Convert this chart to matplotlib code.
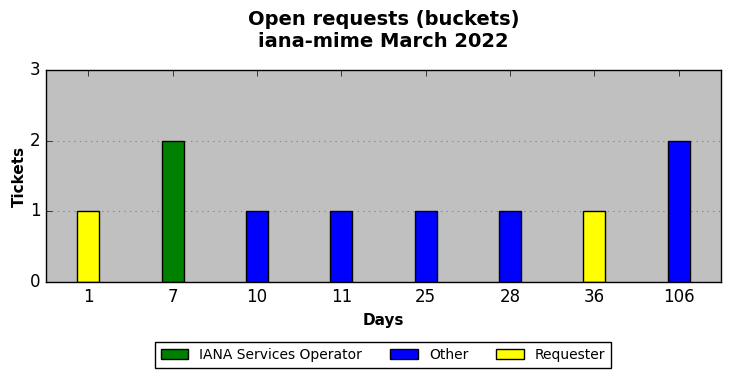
import matplotlib
matplotlib.use("Agg")
import matplotlib.pyplot as plt
import numpy as np

days = ["1", "7", "10", "11", "25", "28", "36", "106"]
iana = [0, 2, 0, 0, 0, 0, 0, 0]
other = [0, 0, 1, 1, 1, 1, 0, 2]
requester = [1, 0, 0, 0, 0, 0, 1, 0]

plt.style.use("classic")
fig = plt.figure(figsize=(7.3, 3.78), dpi=100)
ax = fig.add_axes([46 / 730, 1 - 282 / 378, 675 / 730, 212 / 378])
ax.set_facecolor("#c0c0c0")

x = np.arange(len(days))
w = 0.26
bottom = np.zeros(len(days))
series = [("IANA Services Operator", iana, "green"),
          ("Other", other, "blue"),
          ("Requester", requester, "yellow")]
for name, vals, col in series:
    vals = np.array(vals, dtype=float)
    mask = vals > 0
    ax.bar(x[mask], vals[mask], w, bottom=bottom[mask], color=col,
           edgecolor="black", linewidth=1, label=name, align="center")
    bottom += vals

ax.set_xlim(-0.5, len(days) - 0.5)
ax.set_ylim(0, 3)
ax.set_xticks(x)
ax.set_xticklabels(days, fontsize=12)
ax.set_yticks([0, 1, 2, 3])
ax.tick_params(axis="y", labelsize=12, right=False)
ax.yaxis.grid(True, linestyle=":", color="#888888", linewidth=0.8)
ax.set_axisbelow(True)
ax.set_xlabel("Days", fontsize=11, fontweight="bold")
ax.set_ylabel("Tickets", fontsize=11, fontweight="bold", labelpad=2)

fig.suptitle("Open requests (buckets)\niana-mime March 2022", fontsize=14,
             fontweight="bold", x=383.5 / 730, y=0.974)
fig.legend(loc="center", bbox_to_anchor=(383 / 730, 1 - 355 / 378), ncol=3,
           fontsize=10, fancybox=False, frameon=True, handlelength=2,
           columnspacing=2)

fig.savefig("out.png", dpi=100)
